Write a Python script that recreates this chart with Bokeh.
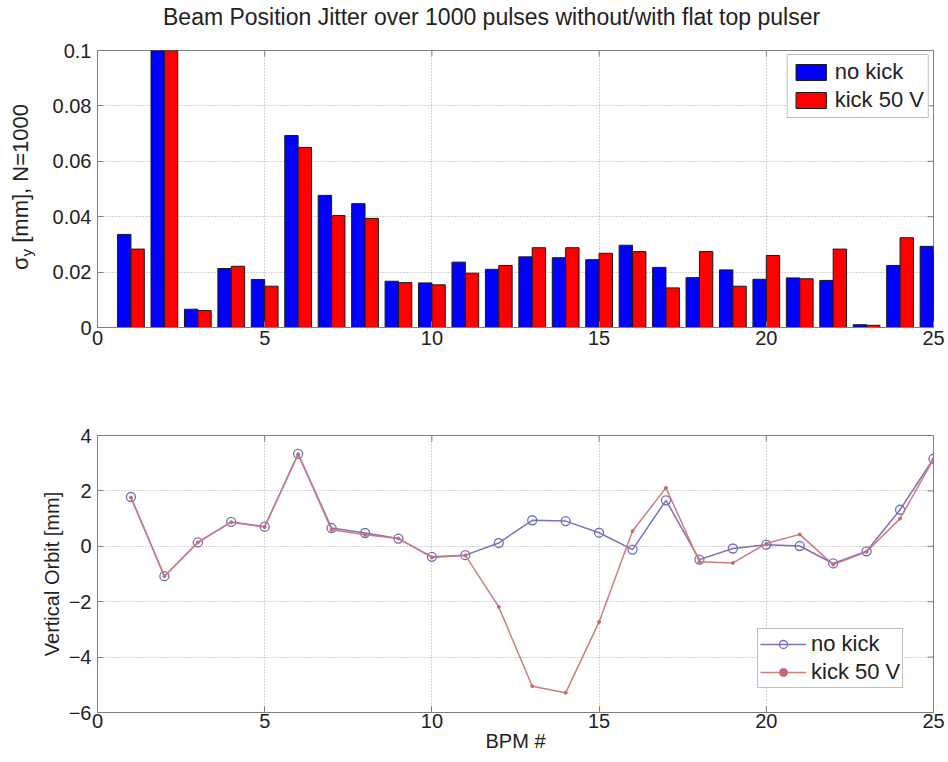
from bokeh.plotting import figure
from bokeh.models import (ColumnDataSource, FixedTicker, Legend, LegendItem,
                          Range1d, Div)
from bokeh.layouts import column, row
from bokeh.transform import dodge
from bokeh.embed import file_html
from bokeh.resources import INLINE

# ---- data -------------------------------------------------------------
bpm = list(range(1, 26))

# RMS vertical jitter sigma_y [mm] over N=1000 pulses
sigma_no_kick = [0.0336, 0.11, 0.0066, 0.0213, 0.0173, 0.0693, 0.0477, 0.0447,
                 0.0167, 0.0161, 0.0236, 0.0210, 0.0255, 0.0252, 0.0245, 0.0297,
                 0.0217, 0.0180, 0.0208, 0.0174, 0.0179, 0.0170, 0.0010, 0.0224,
                 0.0293]
sigma_kick = [0.0283, 0.11, 0.0061, 0.0221, 0.0149, 0.0650, 0.0404, 0.0394,
              0.0162, 0.0154, 0.0196, 0.0224, 0.0288, 0.0288, 0.0268, 0.0274,
              0.0143, 0.0274, 0.0149, 0.0260, 0.0176, 0.0283, 0.0008, 0.0324,
              0.0270]

# mean vertical orbit [mm]
orbit_no_kick = [1.78, -1.08, 0.14, 0.88, 0.71, 3.34, 0.66, 0.48, 0.28, -0.38,
                 -0.32, 0.12, 0.94, 0.91, 0.49, -0.12, 1.66, -0.48, -0.08, 0.06,
                 0.01, -0.62, -0.18, 1.32, 3.16]
orbit_kick = [1.76, -1.08, 0.14, 0.87, 0.70, 3.32, 0.60, 0.42, 0.28, -0.40,
              -0.33, -2.19, -5.05, -5.29, -2.73, 0.55, 2.11, -0.56, -0.60, 0.10,
              0.43, -0.66, -0.20, 1.00, 3.15]

x_ticks = [0, 5, 10, 15, 20, 25]
sigma_ticks = [0, 0.02, 0.04, 0.06, 0.08, 0.1]
sigma_tick_labels = ["0", "0.02", "0.04", "0.06", "0.08", "0.1"]
orbit_ticks = [-6, -4, -2, 0, 2, 4]

FONT = "Liberation Sans"
TXT = "#222222"
AXC = "#7f7f7f"
FRAME_W, FRAME_H = 836, 277
TICK_LEN = 6
CSS_FONT = "font-family:'Liberation Sans',Arial,sans-serif;color:#222222;line-height:1;"


def style(p, yticks):
    """Boxed axes with inward ticks on every side and a dotted grid."""
    p.outline_line_color = AXC
    p.outline_line_width = 1
    p.xaxis.ticker = FixedTicker(ticks=x_ticks)
    p.yaxis.ticker = FixedTicker(ticks=yticks)
    for ax in p.axis:
        ax.axis_line_color = AXC
        ax.major_tick_line_color = AXC
        ax.major_tick_in = TICK_LEN
        ax.major_tick_out = 0
        ax.minor_tick_line_color = None
        ax.major_label_text_font = FONT
        ax.major_label_text_font_size = "20px"
        ax.major_label_text_color = TXT
        ax.axis_label_text_font = FONT
        ax.axis_label_text_font_size = "20px"
        ax.axis_label_text_font_style = "normal"
        ax.axis_label_text_color = TXT
    p.xaxis.major_label_standoff = 3
    p.yaxis.major_label_standoff = 6
    for g in (p.xgrid[0], p.ygrid[0]):
        g.grid_line_color = "#a8a8a8"
        g.grid_line_dash = "1 2"
        g.grid_line_width = 1

    # mirrored inward ticks along the top and right edges of the box
    xr, yr = p.x_range, p.y_range
    dx = TICK_LEN * (xr.end - xr.start) / FRAME_W
    dy = TICK_LEN * (yr.end - yr.start) / FRAME_H
    p.segment(x0=x_ticks, x1=x_ticks, y0=[yr.end] * len(x_ticks),
              y1=[yr.end - dy] * len(x_ticks), line_color=AXC, line_width=1)
    p.segment(x0=[xr.end] * len(yticks), x1=[xr.end - dx] * len(yticks),
              y0=yticks, y1=yticks, line_color=AXC, line_width=1)


# ---- heading ---------------------------------------------------------------
heading = Div(
    width=948, height=36, margin=0,
    text=(
        '<div style="width:948px;height:34px;display:flex;align-items:center;">'
        f'<span style="margin-left:163px;white-space:nowrap;font-size:23px;{CSS_FONT}">'
        'Beam Position Jitter over 1000 pulses without/with flat top pulser'
        '</span></div>'
    ),
)

# ---- top: jitter bars ------------------------------------------------------
top = figure(width=904, height=354, output_backend="svg", toolbar_location=None,
             x_range=Range1d(0, 25), y_range=Range1d(0, 0.1),
             min_border_left=53, min_border_right=15,
             min_border_top=14, min_border_bottom=63)
style(top, sigma_ticks)
top.yaxis.major_label_overrides = {t: s for t, s in zip(sigma_ticks, sigma_tick_labels)}

src = ColumnDataSource(dict(bpm=bpm, no_kick=sigma_no_kick, kick=sigma_kick))
b1 = top.vbar(x=dodge("bpm", -0.2, range=top.x_range), top="no_kick", width=0.4,
              source=src, fill_color="#0000ff", line_color="#1a1a1a", line_width=1)
b2 = top.vbar(x=dodge("bpm", 0.2, range=top.x_range), top="kick", width=0.4,
              source=src, fill_color="#ff0000", line_color="#1a1a1a", line_width=1)

leg_top = Legend(items=[LegendItem(label="no kick", renderers=[b1]),
                        LegendItem(label="kick 50 V", renderers=[b2])],
                 location="top_right", margin=4)
top.add_layout(leg_top)

# rotated y label with a subscript, set beside the top plot
ylabel_top = Div(
    width=44, height=354, margin=0,
    text=(
        '<div style="width:44px;height:302px;display:flex;align-items:center;'
        'justify-content:center;">'
        '<span style="display:inline-block;transform:rotate(-90deg);white-space:nowrap;'
        f'font-size:22px;{CSS_FONT}">'
        'σ<sub style="font-size:15px;vertical-align:-4px;">y</sub> [mm], N=1000'
        '</span></div>'
    ),
)

# ---- bottom: vertical orbit ----------------------------------------------
bot = figure(width=948, height=372, output_backend="svg", toolbar_location=None,
             x_range=Range1d(0, 25), y_range=Range1d(-6, 4),
             min_border_left=97, min_border_right=15,
             min_border_top=45, min_border_bottom=50)
style(bot, orbit_ticks)
bot.xaxis.major_label_standoff = 1
bot.xaxis.axis_label = "BPM #"
bot.xaxis.axis_label_standoff = -1
bot.yaxis.axis_label = "Vertical Orbit [mm]"
bot.yaxis.axis_label_standoff = 3

BLUE_L = "#7a72bc"
RED_L = "#cf7c7c"
l1 = bot.line(bpm, orbit_no_kick, line_color=BLUE_L, line_width=1.5)
s1 = bot.scatter(bpm, orbit_no_kick, marker="circle", size=9, fill_color=None,
                 line_color="#6e6ec0", line_width=1.3)
l2 = bot.line(bpm, orbit_kick, line_color=RED_L, line_width=1.5)
s2 = bot.scatter(bpm, orbit_kick, marker="circle", size=3, fill_color="#c86a6a",
                 line_color="#c86a6a")

leg_bot = Legend(items=[LegendItem(label="no kick", renderers=[l1, s1]),
                        LegendItem(label="kick 50 V", renderers=[l2, s2])],
                 location=(660, 24))
bot.add_layout(leg_bot)

for lg in (leg_top, leg_bot):
    lg.label_text_font = FONT
    lg.label_text_font_size = "22px"
    lg.label_text_color = TXT
    lg.border_line_color = AXC
    lg.border_line_width = 1
    lg.background_fill_alpha = 1
    lg.padding = 4
    lg.spacing = 2
    lg.label_standoff = 5
    lg.glyph_width = 38
    lg.glyph_height = 20
    lg.label_height = 20
leg_bot.padding = 2
leg_bot.glyph_width = 46
leg_bot.margin = 0

layout = column(heading, row(ylabel_top, top, spacing=0), bot, spacing=0)
open("out.html", "w").write(file_html(layout, INLINE))
